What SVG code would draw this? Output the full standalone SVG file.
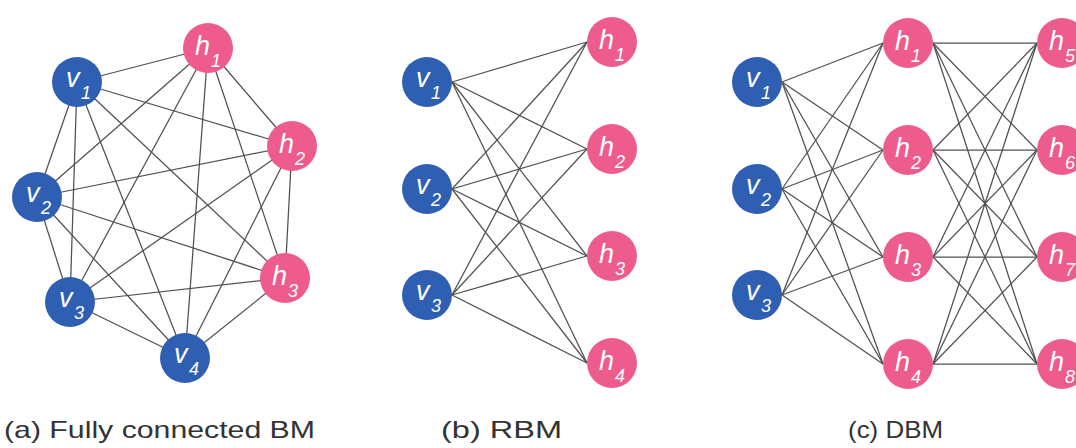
<svg xmlns="http://www.w3.org/2000/svg" width="1076" height="448" viewBox="0 0 1076 448">
<style>
.e{stroke:#505050;stroke-width:1.25;fill:none}
.v{fill:#2f5fb3}
.h{fill:#ee5b8d}
.l{fill:#fff;font-family:"Liberation Sans",Arial,sans-serif;font-style:italic;font-size:27px}
.s{font-size:18px}
.cap{fill:#333;font-family:"Liberation Sans",Arial,sans-serif;font-size:24px}
</style>
<rect width="1076" height="448" fill="#fff"/>
<g id="connectors">
<g id="edges-a">
<line class="e" x1="77" y1="82" x2="208" y2="48"/>
<line class="e" x1="77" y1="82" x2="292" y2="146"/>
<line class="e" x1="77" y1="82" x2="285" y2="278"/>
<line class="e" x1="77" y1="82" x2="37" y2="197"/>
<line class="e" x1="77" y1="82" x2="70" y2="302"/>
<line class="e" x1="77" y1="82" x2="185" y2="358"/>
<line class="e" x1="208" y1="48" x2="292" y2="146"/>
<line class="e" x1="208" y1="48" x2="285" y2="278"/>
<line class="e" x1="208" y1="48" x2="37" y2="197"/>
<line class="e" x1="208" y1="48" x2="70" y2="302"/>
<line class="e" x1="208" y1="48" x2="185" y2="358"/>
<line class="e" x1="292" y1="146" x2="285" y2="278"/>
<line class="e" x1="292" y1="146" x2="37" y2="197"/>
<line class="e" x1="292" y1="146" x2="70" y2="302"/>
<line class="e" x1="292" y1="146" x2="185" y2="358"/>
<line class="e" x1="285" y1="278" x2="37" y2="197"/>
<line class="e" x1="285" y1="278" x2="70" y2="302"/>
<line class="e" x1="285" y1="278" x2="185" y2="358"/>
<line class="e" x1="37" y1="197" x2="70" y2="302"/>
<line class="e" x1="37" y1="197" x2="185" y2="358"/>
<line class="e" x1="70" y1="302" x2="185" y2="358"/>
</g>
<g id="edges-b">
<line class="e" x1="452" y1="82" x2="587" y2="42"/>
<line class="e" x1="452" y1="82" x2="587" y2="149"/>
<line class="e" x1="452" y1="82" x2="587" y2="256"/>
<line class="e" x1="452" y1="82" x2="587" y2="363"/>
<line class="e" x1="452" y1="189" x2="587" y2="42"/>
<line class="e" x1="452" y1="189" x2="587" y2="149"/>
<line class="e" x1="452" y1="189" x2="587" y2="256"/>
<line class="e" x1="452" y1="189" x2="587" y2="363"/>
<line class="e" x1="452" y1="295" x2="587" y2="42"/>
<line class="e" x1="452" y1="295" x2="587" y2="149"/>
<line class="e" x1="452" y1="295" x2="587" y2="256"/>
<line class="e" x1="452" y1="295" x2="587" y2="363"/>
</g>
<g id="edges-c">
<line class="e" x1="782" y1="82" x2="883" y2="43"/>
<line class="e" x1="782" y1="82" x2="883" y2="150"/>
<line class="e" x1="782" y1="82" x2="883" y2="257"/>
<line class="e" x1="782" y1="82" x2="883" y2="364"/>
<line class="e" x1="782" y1="189" x2="883" y2="43"/>
<line class="e" x1="782" y1="189" x2="883" y2="150"/>
<line class="e" x1="782" y1="189" x2="883" y2="257"/>
<line class="e" x1="782" y1="189" x2="883" y2="364"/>
<line class="e" x1="782" y1="295" x2="883" y2="43"/>
<line class="e" x1="782" y1="295" x2="883" y2="150"/>
<line class="e" x1="782" y1="295" x2="883" y2="257"/>
<line class="e" x1="782" y1="295" x2="883" y2="364"/>
<line class="e" x1="933" y1="43" x2="1037" y2="43"/>
<line class="e" x1="933" y1="43" x2="1037" y2="150"/>
<line class="e" x1="933" y1="43" x2="1037" y2="257"/>
<line class="e" x1="933" y1="43" x2="1037" y2="364"/>
<line class="e" x1="933" y1="150" x2="1037" y2="43"/>
<line class="e" x1="933" y1="150" x2="1037" y2="150"/>
<line class="e" x1="933" y1="150" x2="1037" y2="257"/>
<line class="e" x1="933" y1="150" x2="1037" y2="364"/>
<line class="e" x1="933" y1="257" x2="1037" y2="43"/>
<line class="e" x1="933" y1="257" x2="1037" y2="150"/>
<line class="e" x1="933" y1="257" x2="1037" y2="257"/>
<line class="e" x1="933" y1="257" x2="1037" y2="364"/>
<line class="e" x1="933" y1="364" x2="1037" y2="43"/>
<line class="e" x1="933" y1="364" x2="1037" y2="150"/>
<line class="e" x1="933" y1="364" x2="1037" y2="257"/>
<line class="e" x1="933" y1="364" x2="1037" y2="364"/>
</g>
</g>
<g id="a-v1"><circle class="v" cx="77" cy="82" r="25"/><text class="l" x="66" y="87">v<tspan class="s" x="81" y="99">1</tspan></text></g>
<g id="a-h1"><circle class="h" cx="208" cy="48" r="25"/><text class="l" x="195" y="55">h<tspan class="s" x="211" y="67">1</tspan></text></g>
<g id="a-h2"><circle class="h" cx="292" cy="146" r="25"/><text class="l" x="279" y="153">h<tspan class="s" x="295" y="165">2</tspan></text></g>
<g id="a-v2"><circle class="v" cx="37" cy="197" r="25"/><text class="l" x="26" y="202">v<tspan class="s" x="41" y="214">2</tspan></text></g>
<g id="a-h3"><circle class="h" cx="285" cy="278" r="25"/><text class="l" x="272" y="285">h<tspan class="s" x="288" y="297">3</tspan></text></g>
<g id="a-v3"><circle class="v" cx="70" cy="302" r="25"/><text class="l" x="59" y="307">v<tspan class="s" x="74" y="319">3</tspan></text></g>
<g id="a-v4"><circle class="v" cx="185" cy="358" r="25"/><text class="l" x="174" y="363">v<tspan class="s" x="189" y="375">4</tspan></text></g>
<g id="b-v1"><circle class="v" cx="427" cy="82" r="25"/><text class="l" x="416" y="87">v<tspan class="s" x="431" y="99">1</tspan></text></g>
<g id="b-v2"><circle class="v" cx="427" cy="189" r="25"/><text class="l" x="416" y="194">v<tspan class="s" x="431" y="206">2</tspan></text></g>
<g id="b-v3"><circle class="v" cx="427" cy="295" r="25"/><text class="l" x="416" y="300">v<tspan class="s" x="431" y="312">3</tspan></text></g>
<g id="b-h1"><circle class="h" cx="612" cy="42" r="25"/><text class="l" x="599" y="49">h<tspan class="s" x="615" y="61">1</tspan></text></g>
<g id="b-h2"><circle class="h" cx="612" cy="149" r="25"/><text class="l" x="599" y="156">h<tspan class="s" x="615" y="168">2</tspan></text></g>
<g id="b-h3"><circle class="h" cx="612" cy="256" r="25"/><text class="l" x="599" y="263">h<tspan class="s" x="615" y="275">3</tspan></text></g>
<g id="b-h4"><circle class="h" cx="612" cy="363" r="25"/><text class="l" x="599" y="370">h<tspan class="s" x="615" y="382">4</tspan></text></g>
<g id="c-v1"><circle class="v" cx="757" cy="82" r="25"/><text class="l" x="746" y="87">v<tspan class="s" x="761" y="99">1</tspan></text></g>
<g id="c-v2"><circle class="v" cx="757" cy="189" r="25"/><text class="l" x="746" y="194">v<tspan class="s" x="761" y="206">2</tspan></text></g>
<g id="c-v3"><circle class="v" cx="757" cy="295" r="25"/><text class="l" x="746" y="300">v<tspan class="s" x="761" y="312">3</tspan></text></g>
<g id="c-h1"><circle class="h" cx="908" cy="43" r="25"/><text class="l" x="895" y="50">h<tspan class="s" x="911" y="62">1</tspan></text></g>
<g id="c-h2"><circle class="h" cx="908" cy="150" r="25"/><text class="l" x="895" y="157">h<tspan class="s" x="911" y="169">2</tspan></text></g>
<g id="c-h3"><circle class="h" cx="908" cy="257" r="25"/><text class="l" x="895" y="264">h<tspan class="s" x="911" y="276">3</tspan></text></g>
<g id="c-h4"><circle class="h" cx="908" cy="364" r="25"/><text class="l" x="895" y="371">h<tspan class="s" x="911" y="383">4</tspan></text></g>
<g id="c-h5"><circle class="h" cx="1062" cy="43" r="25"/><text class="l" x="1049" y="50">h<tspan class="s" x="1065" y="62">5</tspan></text></g>
<g id="c-h6"><circle class="h" cx="1062" cy="150" r="25"/><text class="l" x="1049" y="157">h<tspan class="s" x="1065" y="169">6</tspan></text></g>
<g id="c-h7"><circle class="h" cx="1062" cy="257" r="25"/><text class="l" x="1049" y="264">h<tspan class="s" x="1065" y="276">7</tspan></text></g>
<g id="c-h8"><circle class="h" cx="1062" cy="364" r="25"/><text class="l" x="1049" y="371">h<tspan class="s" x="1065" y="383">8</tspan></text></g>
<g id="captions">
<text class="cap" x="4" y="438" textLength="311" lengthAdjust="spacingAndGlyphs">(a) Fully connected BM</text>
<text class="cap" x="441" y="438" textLength="121" lengthAdjust="spacingAndGlyphs">(b) RBM</text>
<text class="cap" x="848" y="438" textLength="95" lengthAdjust="spacingAndGlyphs">(c) DBM</text>
</g>
</svg>
